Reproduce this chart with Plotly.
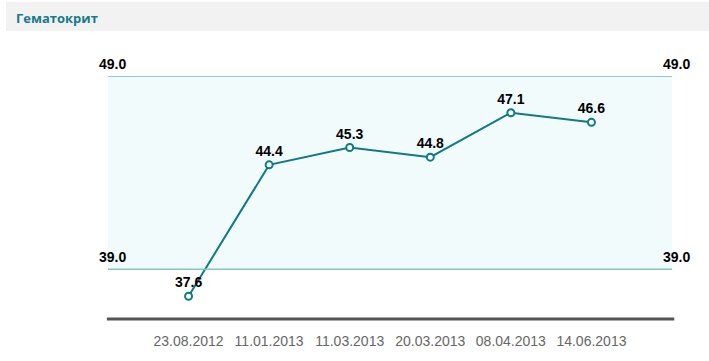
import plotly.graph_objects as go

dates = ["23.08.2012", "11.01.2013", "11.03.2013", "20.03.2013", "08.04.2013", "14.06.2013"]
values = [37.6, 44.4, 45.3, 44.8, 47.1, 46.6]
norm_low = 39.0
norm_high = 49.0
title = "Гематокрит"

teal = "#0f7984"
x_idx = list(range(len(dates)))

fig = go.Figure()
fig.add_trace(go.Scatter(
    x=x_idx, y=values, mode="lines+markers+text",
    line=dict(color=teal, width=2),
    marker=dict(size=7, color="white", line=dict(color=teal, width=2)),
    text=[f"{v:.1f}" for v in values], textposition="top center",
    textfont=dict(family="Liberation Sans, Arial", size=14, color="black", weight="bold"),
    cliponaxis=False, hoverinfo="skip",
))

shapes = [
    dict(type="rect", xref="paper", yref="paper", x0=(6-108)/564, x1=(709-108)/564,
         y0=1 + (76-30)/249, y1=1 + 76/249, fillcolor="#f2f2f2", line_width=0, layer="below"),
    dict(type="rect", xref="paper", yref="y", x0=0, x1=1, y0=norm_low, y1=norm_high,
         fillcolor="#f2fbfc", line_width=0, layer="below"),
    dict(type="line", xref="paper", yref="y", x0=0, x1=1, y0=norm_high, y1=norm_high,
         line=dict(color="#2b9aa1", width=1)),
    dict(type="line", xref="paper", yref="y", x0=0, x1=1, y0=norm_low, y1=norm_low,
         line=dict(color="#86c3c8", width=1.5)),
    dict(type="line", xref="paper", yref="paper", x0=-0.002, x1=1.004, y0=0, y1=0,
         line=dict(color="#555555", width=3)),
]

annotations = [
    dict(text=title, xref="paper", yref="paper", x=(14-108)/564, y=1 + (76-17)/249,
         xanchor="left", yanchor="middle", showarrow=False,
         font=dict(family="Open Sans", size=13, color="#177b88", weight="bold")),
]
for val in (norm_high, norm_low):
    for xp in ((112-108)/564, (676-108)/564):
        annotations.append(dict(text=f"{val:.1f}", xref="paper", yref="y", x=xp, y=val,
                                yshift=12.5, xanchor="center", yanchor="middle", showarrow=False,
                                font=dict(family="Liberation Sans, Arial", size=14, color="black",
                                          weight="bold")))

fig.update_layout(
    width=709, height=361,
    margin=dict(l=108, r=37, t=76, b=36),
    plot_bgcolor="white", paper_bgcolor="white",
    showlegend=False,
    shapes=shapes, annotations=annotations,
    xaxis=dict(range=[-1, 6], tickmode="array", tickvals=x_idx, ticktext=dates,
               showgrid=False, zeroline=False, showline=False,
               ticks="outside", ticklen=9, tickcolor="rgba(0,0,0,0)",
               tickfont=dict(family="Liberation Sans, Arial", size=14, color="#666666")),
    yaxis=dict(range=[36.42, 49.0], showgrid=False, zeroline=False, showline=False,
               showticklabels=False, ticks=""),
)

fig.write_html("out.html", config={"displayModeBar": False},
               post_script="document.body.style.margin='0';document.body.style.overflow='hidden';")
